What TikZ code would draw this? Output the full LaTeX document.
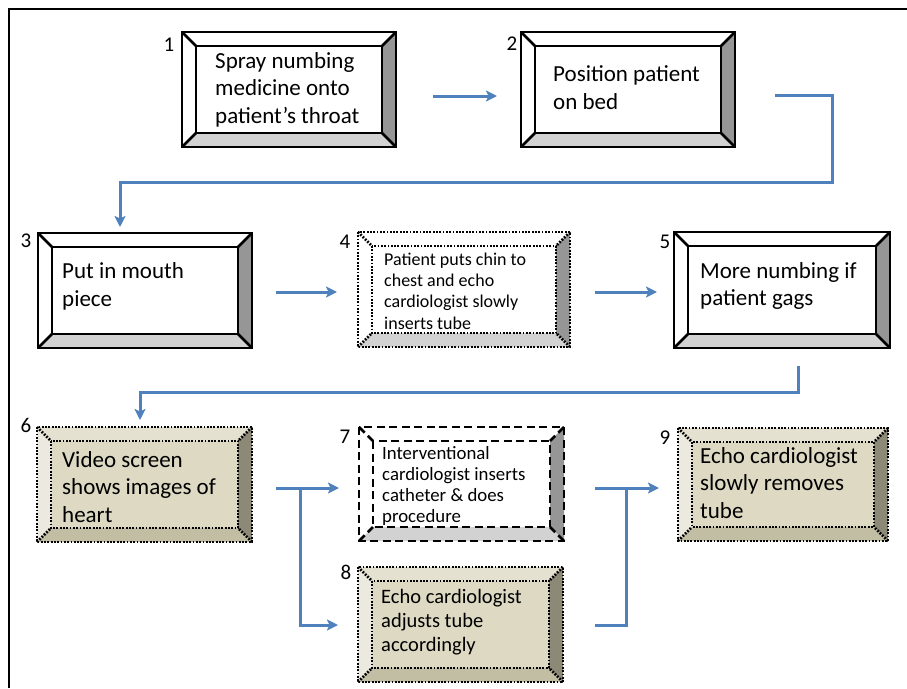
\documentclass[tikz,border=0pt]{standalone}
\usepackage{fontspec}
\setmainfont{Carlito}
\usetikzlibrary{arrows.meta,positioning}

\definecolor{arrowblue}{RGB}{79,129,189}
\definecolor{wface}{RGB}{255,255,255}
\definecolor{wtop}{RGB}{255,255,255}
\definecolor{wleft}{RGB}{255,255,255}
\definecolor{wright}{RGB}{150,150,150}
\definecolor{wbottom}{RGB}{210,210,210}
\definecolor{tface}{RGB}{221,217,195}
\definecolor{ttop}{RGB}{228,225,208}
\definecolor{tleft}{RGB}{236,234,224}
\definecolor{tright}{RGB}{140,137,118}
\definecolor{tbottom}{RGB}{194,190,164}

% 斜面方框: #1 节点名, #2 线型, #3 颜色组
\newcommand{\bevelbox}[3]{%
  \fill[#3face] (#1.north west) rectangle (#1.south east);
  \fill[#3top] (#1.north west) -- (#1.north east) -- ([shift={(-14,14)}]#1.north east) -- ([shift={(14,14)}]#1.north west) -- cycle;
  \fill[#3left] (#1.north west) -- ([shift={(14,14)}]#1.north west) -- ([shift={(14,-14)}]#1.south west) -- (#1.south west) -- cycle;
  \fill[#3right] (#1.north east) -- (#1.south east) -- ([shift={(-14,-14)}]#1.south east) -- ([shift={(-14,14)}]#1.north east) -- cycle;
  \fill[#3bottom] (#1.south west) -- (#1.south east) -- ([shift={(-14,-14)}]#1.south east) -- ([shift={(14,-14)}]#1.south west) -- cycle;
  \draw[#2] (#1.north west) rectangle (#1.south east);
  \draw[#2] ([shift={(14,14)}]#1.north west) rectangle ([shift={(-14,-14)}]#1.south east);
  \draw[#2] (#1.north west) -- ([shift={(14,14)}]#1.north west);
  \draw[#2] (#1.north east) -- ([shift={(-14,14)}]#1.north east);
  \draw[#2] (#1.south west) -- ([shift={(14,-14)}]#1.south west);
  \draw[#2] (#1.south east) -- ([shift={(-14,-14)}]#1.south east);
}

\begin{document}
\begin{tikzpicture}[x=1pt, y=-1pt,
  boxshape/.style={rectangle, inner sep=0pt, outer sep=0pt},
  solidedge/.style={draw=black, line width=2.6pt},
  dotedge/.style={draw=black, line width=2.8pt, dash pattern=on 1.8pt off 1.5pt},
  dashedge/.style={draw=black, line width=2.6pt, dash pattern=on 8pt off 4.5pt},
  bigtext/.style={align=left, inner sep=0pt, anchor=west, font=\fontsize{23}{27.5}\selectfont},
  smalltext/.style={align=left, inner sep=0pt, anchor=west, font=\fontsize{18}{21.3}\selectfont},
  num/.style={inner sep=0pt, font=\fontsize{21}{24}\selectfont},
  link/.style={draw=arrowblue, line width=3pt},
  arr/.style={link, -{Stealth[length=11pt,width=11pt,inset=2.5pt]}}]
\useasboundingbox (0,0) rectangle (907,688);
% 外框
\draw[line width=2pt] (9,688) -- (9,9) -- (907,9);

% 第一行
\node[boxshape, minimum width=214, minimum height=115] (box1) at (289,89.5) {};
\bevelbox{box1}{solidedge}{w}
\node[bigtext] (t1) at ([xshift=33]box1.west) {Spray numbing\\medicine onto\\patient’s throat};
\node[num] (n1) at ([shift={(-13,13)}]box1.north west) {1};

\node[boxshape, minimum width=214, minimum height=115] (box2) at (628,89.5) {};
\bevelbox{box2}{solidedge}{w}
\node[bigtext] (t2) at ([shift={(32,-2)}]box2.west) {Position patient\\on bed};
\node[num] (n2) at ([shift={(-9,12)}]box2.north west) {2};

% 第二行
\node[boxshape, minimum width=214, minimum height=115] (box3) at (145,290.5) {};
\bevelbox{box3}{solidedge}{w}
\node[bigtext] (t3) at ([shift={(24,-4)}]box3.west) {Put in mouth\\piece};
\node[num] (n3) at ([shift={(-12,8)}]box3.north west) {3};

\node[boxshape, minimum width=212, minimum height=115] (box4) at (464,289.5) {};
\bevelbox{box4}{dotedge}{w}
\node[smalltext] (t4) at ([shift={(26,1.5)}]box4.west) {Patient puts chin to\\chest and echo\\cardiologist slowly\\inserts tube};
\node[num] (n4) at ([shift={(-13,10)}]box4.north west) {4};

\node[boxshape, minimum width=216, minimum height=116] (box5) at (782,290) {};
\bevelbox{box5}{solidedge}{w}
\node[bigtext] (t5) at ([shift={(26,-4)}]box5.west) {More numbing if\\patient gags};
\node[num] (n5) at ([shift={(-9,10)}]box5.north west) {5};

% 第三行
\node[boxshape, minimum width=215, minimum height=115] (box6) at (144.5,484.5) {};
\bevelbox{box6}{dotedge}{t}
\node[bigtext] (t6) at ([shift={(25,2.5)}]box6.west) {Video screen\\shows images of\\heart};
\node[num] (n6) at ([shift={(-11,-2)}]box6.north west) {6};

\node[boxshape, minimum width=205, minimum height=114] (box7) at (461.5,484) {};
\bevelbox{box7}{dashedge}{w}
\node[smalltext, font=\fontsize{18.8}{20.7}\selectfont] (t7) at ([shift={(23,2)}]box7.west) {Interventional\\cardiologist inserts\\catheter \& does\\procedure};
\node[num] (n7) at ([shift={(-14,10)}]box7.north west) {7};

\node[boxshape, minimum width=205, minimum height=115] (box8) at (460.5,624.5) {};
\bevelbox{box8}{dotedge}{t}
\node[bigtext, font=\fontsize{20.5}{24}\selectfont] (t8) at ([shift={(23,-2.5)}]box8.west) {Echo cardiologist\\adjusts tube\\accordingly};
\node[num] (n8) at ([shift={(-12,5)}]box8.north west) {8};

\node[boxshape, minimum width=210, minimum height=113] (box9) at (783,484.5) {};
\bevelbox{box9}{dotedge}{t}
\node[bigtext] (t9) at ([shift={(22,-1.5)}]box9.west) {Echo cardiologist\\slowly removes\\tube};
\node[num] (n9) at ([shift={(-13,10)}]box9.north west) {9};

% 箭头
\draw[arr] ([shift={(37,6.5)}]box1.east) -- ([shift={(-24,6.5)}]box2.west);
\draw[arr] ([shift={(40,5.5)}]box2.east) -- ++(57,0) |- ([shift={(-25,-51)}]box3.north) -- ([shift={(-25,-6)}]box3.north);
\draw[arr] ([shift={(24,1.5)}]box3.east) -- ([shift={(-21,2.5)}]box4.west);
\draw[arr] ([shift={(25,2.5)}]box4.east) -- ([shift={(-17,2)}]box5.west);
\draw[arr] ([shift={(16,18)}]box5.south) -- ++(0,26) -| ([shift={(-4.5,-7)}]box6.north);

\coordinate (s6) at ([shift={(48,3.5)}]box6.east);
\draw[link] ([shift={(24,3.5)}]box6.east) -- (s6);
\draw[arr] (s6) -- ([shift={(-20,4)}]box7.west);
\draw[arr] (s6) |- ([shift={(-20,0.5)}]box8.west);

\coordinate (m9) at ([shift={(-52,3.5)}]box9.west);
\draw[link] ([shift={(31,4)}]box7.east) -- (m9);
\draw[link] ([shift={(32,0.5)}]box8.east) -| (m9);
\draw[arr] (m9) -- ([shift={(-19,3.5)}]box9.west);
\end{tikzpicture}
\end{document}
